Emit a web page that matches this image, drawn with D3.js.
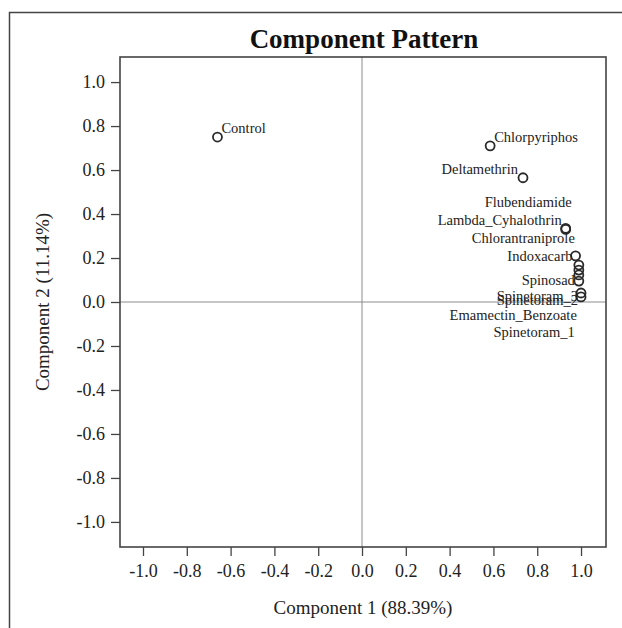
<!DOCTYPE html>
<html>
<head>
<meta charset="utf-8">
<script src="https://cdn.jsdelivr.net/npm/d3@7"></script>
<style>
  html, body { margin: 0; padding: 0; background: #fff; }
  svg { display: block; }
  text { font-family: "Liberation Serif", "DejaVu Serif", serif; fill: #222; }
</style>
</head>
<body>
<svg id="chart" width="622" height="628"></svg>
<script>
// ---- data ----
const names = ["Control", "Chlorpyriphos", "Deltamethrin", "Flubendiamide", "Lambda_Cyhalothrin",
  "Chlorantraniprole", "Indoxacarb", "Emamectin_Benzoate", "Spinetoram_1", "Spinosad",
  "Spinetoram_3", "Spinetoram_2"];
const comp1 = [-0.66, 0.585, 0.735, 0.93, 0.93, 0.99, 0.975, 0.99, 0.99, 0.99, 1.0, 1.0];
const comp2 = [0.75, 0.71, 0.565, 0.335, 0.33, 0.168, 0.21, 0.145, 0.123, 0.095, 0.041, 0.023];
const xTicks = [-1.0, -0.8, -0.6, -0.4, -0.2, 0.0, 0.2, 0.4, 0.6, 0.8, 1.0];
const yTicks = [-1.0, -0.8, -0.6, -0.4, -0.2, 0.0, 0.2, 0.4, 0.6, 0.8, 1.0];
const titleText = "Component Pattern";
const xTitle = "Component 1 (88.39%)";
const yTitle = "Component 2 (11.14%)";

// ---- layout (label placement offsets in px, anchor) ----
const labelLayout = {
  "Control": [4, -4, "start"],
  "Chlorpyriphos": [4, -4, "start"],
  "Deltamethrin": [-5, -4, "end"],
  "Flubendiamide": [6, -21, "end"],
  "Lambda_Cyhalothrin": [-4, -4, "end"],
  "Chlorantraniprole": [-4, -22, "end"],
  "Indoxacarb": [-3, 5, "end"],
  "Emamectin_Benzoate": [-2, 50, "end"],
  "Spinetoram_1": [-4, 62, "end"],
  "Spinosad": [-4, 4, "end"],
  "Spinetoram_3": [-3, 8, "end"],
  "Spinetoram_2": [-3, 8, "end"]
};

const svg = d3.select("#chart");
const L = 120, R = 606, T = 57, B = 547;

const x = d3.scaleLinear().domain([-1.105, 1.114]).range([L, R]);
const y = d3.scaleLinear().domain([-1.114, 1.114]).range([B, T]);
const fmt = d => d3.format(".1f")(d).replace("\u2212", "-");

// outer frame (left + top only)
svg.append("path")
  .attr("d", `M9.5,628 L9.5,12.5 L622,12.5`)
  .attr("fill", "none").attr("stroke", "#444").attr("stroke-width", 1.5);

// title
svg.append("text")
  .attr("x", (L + R) / 2 + 1).attr("y", 48)
  .attr("text-anchor", "middle")
  .style("font-size", "27px").style("font-weight", "bold").style("fill", "#111")
  .text(titleText);

// reference lines
svg.append("line")
  .attr("x1", x(0)).attr("x2", x(0)).attr("y1", T).attr("y2", B)
  .attr("stroke", "#8c8c8c").attr("stroke-width", 1);
svg.append("line")
  .attr("x1", L).attr("x2", R).attr("y1", y(0)).attr("y2", y(0))
  .attr("stroke", "#8c8c8c").attr("stroke-width", 1);

// axes
const xAxis = d3.axisBottom(x).tickValues(xTicks).tickFormat(fmt).tickSize(9).tickPadding(8).tickSizeOuter(0);
const yAxis = d3.axisLeft(y).tickValues(yTicks).tickFormat(fmt).tickSize(9).tickPadding(6).tickSizeOuter(0);

const gx = svg.append("g").attr("transform", `translate(0,${B})`).call(xAxis);
const gy = svg.append("g").attr("transform", `translate(${L},0)`).call(yAxis);
[gx, gy].forEach(g => {
  g.select(".domain").remove();
  g.selectAll(".tick line").attr("stroke", "#444").attr("stroke-width", 1.3);
  g.selectAll(".tick text").style("font-size", "18px").style("font-family", "Liberation Serif, serif").attr("fill", "#222");
});

// plot frame
svg.append("rect")
  .attr("x", L).attr("y", T).attr("width", R - L).attr("height", B - T)
  .attr("fill", "none").attr("stroke", "#444").attr("stroke-width", 1.6);

// axis titles
svg.append("text")
  .attr("x", (L + R) / 2).attr("y", 614)
  .attr("text-anchor", "middle")
  .style("font-size", "19px")
  .text(xTitle);
svg.append("text")
  .attr("transform", `translate(49,${(T + B) / 2}) rotate(-90)`)
  .attr("text-anchor", "middle")
  .style("font-size", "19px")
  .text(yTitle);

// points
const pts = names.map((n, i) => ({ name: n, c1: comp1[i], c2: comp2[i] }));
svg.append("g").selectAll("circle").data(pts).join("circle")
  .attr("cx", d => x(d.c1)).attr("cy", d => y(d.c2)).attr("r", 4.5)
  .attr("fill", "none").attr("stroke", "#2a2a2a").attr("stroke-width", 1.8);

// labels
svg.append("g").selectAll("text").data(pts).join("text")
  .attr("x", d => x(d.c1) + labelLayout[d.name][0])
  .attr("y", d => y(d.c2) + labelLayout[d.name][1])
  .attr("text-anchor", d => labelLayout[d.name][2])
  .style("font-size", "14.5px")
  .text(d => d.name);
</script>
</body>
</html>
